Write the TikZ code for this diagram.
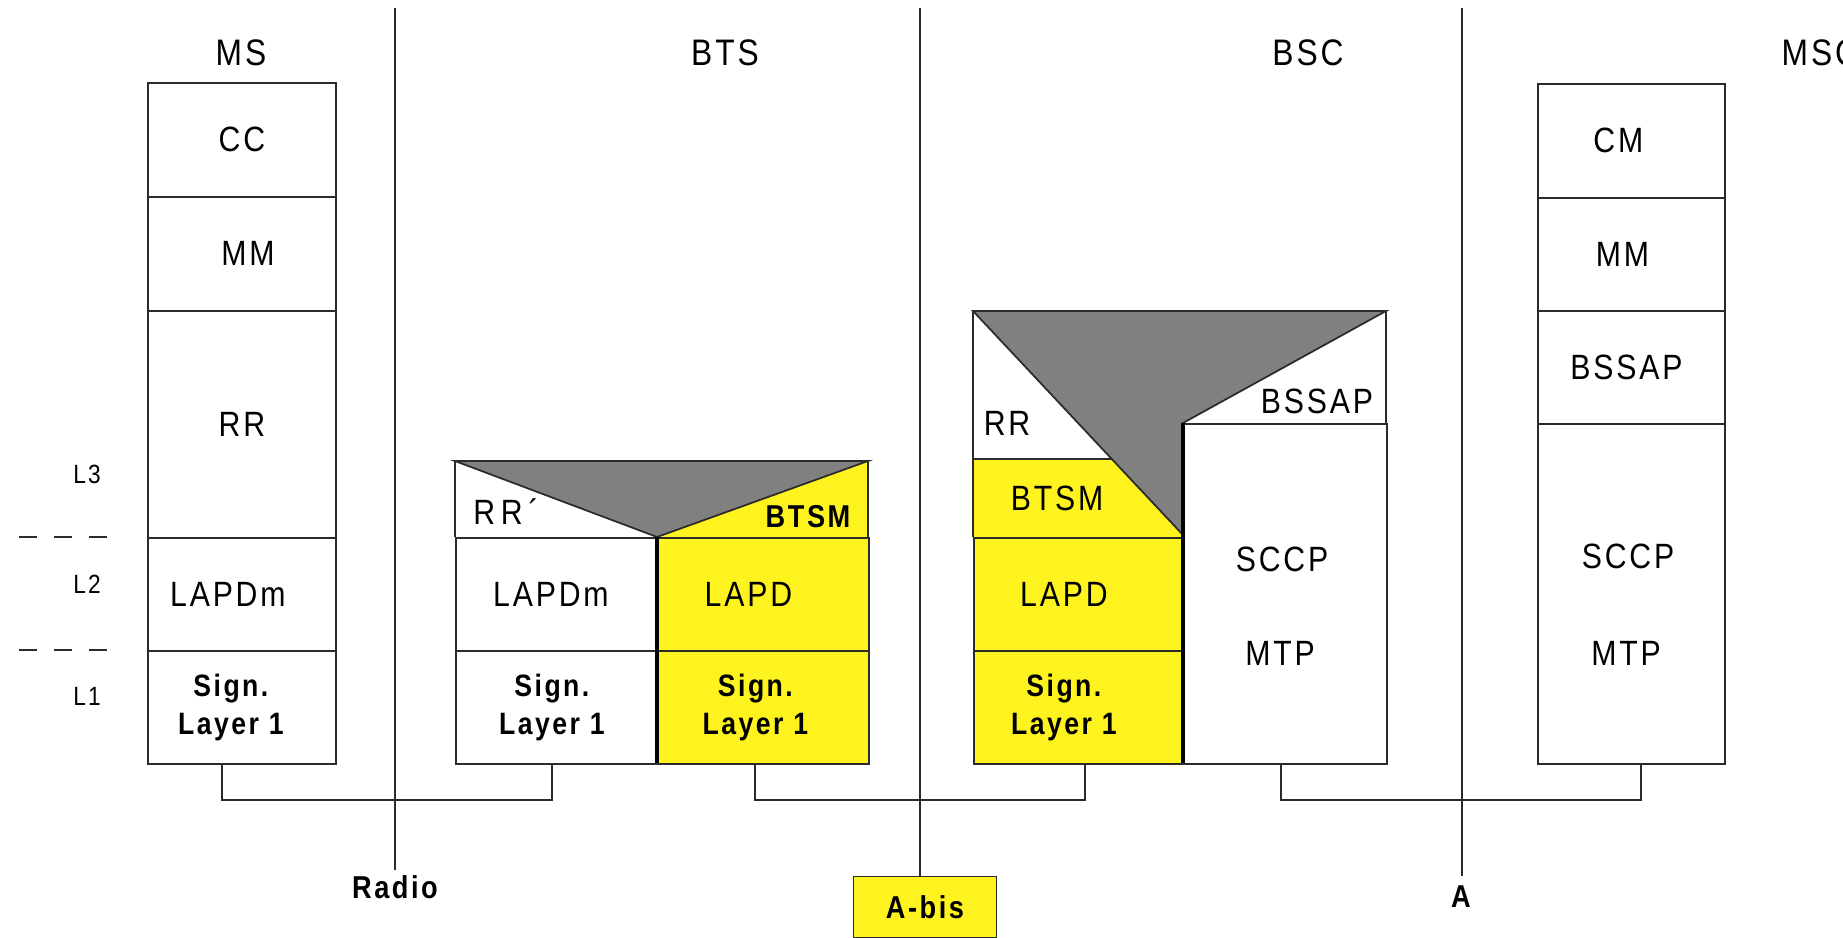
\documentclass[tikz,border=0pt]{standalone}
\usepackage{fontspec}
\setmainfont{Liberation Sans}[FakeStretch=0.86,LetterSpace=8]
\usepackage{tikz}
\usetikzlibrary{positioning}
\definecolor{sigyellow}{HTML}{FFF31F}
\definecolor{headgray}{HTML}{808080}
\definecolor{linegray}{HTML}{2B2B2B}
\tikzset{
  layer/.style={
    draw=linegray,
    line width=0.5pt,
    anchor=north west,
    inner sep=0pt,
    align=center,
    font=\fontsize{10}{12}\selectfont
  },
  signlayer/.style={
    layer,
    font=\bfseries\fontsize{8.8}{10.8}\selectfont
  },
  caption/.style={
    inner sep=0pt,
    font=\fontsize{10}{12}\selectfont
  },
  boldcap/.style={
    inner sep=0pt,
    font=\bfseries\fontsize{9}{11}\selectfont
  },
  levelcap/.style={
    inner sep=0pt,
    font=\fontsize{7.5}{9}\selectfont
  },
  headline/.style={
    draw=linegray,
    line width=0.5pt
  },
  sideline/.style={
    draw=black,
    line width=1.3pt
  },
  iface/.style={
    draw=linegray,
    line width=0.45pt
  },
  link/.style={
    draw=linegray,
    line width=0.45pt
  }
}

\begin{document}
\begin{tikzpicture}[x=0.1mm, y=-0.1mm]
    \useasboundingbox (0,0) rectangle (1843,938);
    % interface lines
    \coordinate (radiotop) at (395,8);
    \coordinate (radiobot) at (395,870);
    \coordinate (abistop) at (920,8);
    \coordinate (abisbot) at (920,876);
    \coordinate (atop) at (1462,8);
    \coordinate (abot) at (1462,876);
    \draw[iface] (radiotop) -- (radiobot);
    \draw[iface] (abistop) -- (abisbot);
    \draw[iface] (atop) -- (abot);
    \node[boldcap, below=1.7mm of radiobot, anchor=center] (radio) {Radio};
    \node[boldcap, below=0pt of abisbot, xshift=0.5mm, draw=linegray, fill=sigyellow,
      minimum width=14.3mm, minimum height=6.1mm] (abis) {A-bis};
    \node[boldcap] (aname) at (1461,897) {A};

    % titles and levels
    \node[caption, font=\fontsize{10.5}{12}\selectfont] (msname) at (241,53) {MS};
    \node[caption, font=\fontsize{10.5}{12}\selectfont] (btsname) at (725,53) {BTS};
    \node[caption, font=\fontsize{10.5}{12}\selectfont] (bscname) at (1308,53) {BSC};
    \node[caption, font=\fontsize{10.5}{12}\selectfont, anchor=west] (mscname) at (1781,53) {MSC};
    \node[levelcap] (lthree) at (87,474) {L3};
    \node[levelcap] (ltwo) at (87,584) {L2};
    \node[levelcap] (lone) at (87,696) {L1};
    \draw[iface, dash pattern=on 1.8mm off 1.7mm] (19,537) -- (117,537);
    \draw[iface, dash pattern=on 1.8mm off 1.7mm] (19,650) -- (117,650);

    % MS stack
    \node[layer, minimum width=18.8mm, minimum height=11.4mm] (mscc) at (147,82) {CC};
    \node[layer, minimum width=18.8mm, minimum height=11.4mm, text width=18.8mm] (msmm) at (147,196) {\hspace*{1.2mm}MM};
    \node[layer, minimum width=18.8mm, minimum height=22.7mm] (msrr) at (147,310) {RR};
    \node[layer, minimum width=18.8mm, minimum height=11.3mm] (mslapdm) at (147,537) {LAPDm\hspace*{2.8mm}};
    \node[signlayer, minimum width=18.8mm, minimum height=11.3mm] (msl1) at (147,650) {Sign.\hspace*{2.2mm}\\Layer 1\hspace*{2.2mm}};

    % BTS stack
    \fill[sigyellow] (657,537) -- (868,461) -- (868,537) -- cycle;
    \filldraw[headline, fill=headgray] (455,461) -- (868,461) -- (657,537) -- cycle;
    \draw[headline] (455,537) -- (455,461);
    \draw[headline] (868,461) -- (868,537);
    \node[caption] (btsrr) at (506,512) {R\,R\,´};
    \node[boldcap] (btsbtsm) at (808,517) {BTSM};
    \node[layer, minimum width=20.2mm, minimum height=11.3mm] (btslapdm) at (455,537) {LAPDm\hspace*{1.2mm}};
    \node[signlayer, minimum width=20.2mm, minimum height=11.3mm] (btsl1a) at (455,650) {Sign.\hspace*{1mm}\\Layer 1\hspace*{1mm}};
    \node[layer, fill=sigyellow, minimum width=21.1mm, minimum height=11.3mm] (btslapd) at (657,537) {LAPD\hspace*{3mm}};
    \node[signlayer, fill=sigyellow, minimum width=21.1mm, minimum height=11.3mm] (btsl1b) at (657,650) {Sign.\hspace*{1.6mm}\\Layer 1\hspace*{1.6mm}};
    \draw[sideline] (657,537) -- (657,763);

    % BSC stack
    \fill[sigyellow] (973,459) -- (1112,459) -- (1183,535) -- (1183,763) -- (973,763) -- cycle;
    \filldraw[headline, fill=headgray] (973,311) -- (1386,311) -- (1183,423) -- (1183,535) -- cycle;
    \draw[headline] (973,537) -- (973,311);
    \draw[headline] (1386,311) -- (1386,423);
    \draw[headline] (973,459) -- (1112,459);
    \node[caption] (bscrr) at (1007,423) {RR};
    \node[caption] (bscbssap) at (1317,401) {BSSAP};
    \node[caption] (bscbtsm) at (1057,498) {BTSM};
    \node[layer, fill=sigyellow, minimum width=21mm, minimum height=11.3mm] (bsclapd) at (973,537) {LAPD\hspace*{3mm}};
    \node[signlayer, fill=sigyellow, minimum width=21mm, minimum height=11.3mm] (bscl1) at (973,650) {Sign.\hspace*{3mm}\\Layer 1\hspace*{3mm}};
    \node[layer, minimum width=20.3mm, minimum height=34mm] (bscsccp) at (1183,423) {};
    \node[caption] (bscsccplbl) at (1282,559) {SCCP};
    \node[caption] (bscmtp) at (1280,653) {MTP};
    \draw[sideline] (1183,423) -- (1183,763);

    % MSC stack
    \node[layer, minimum width=18.7mm, minimum height=11.4mm] (msccm) at (1537,83) {CM\hspace*{2.6mm}};
    \node[layer, minimum width=18.7mm, minimum height=11.3mm] (mscmm) at (1537,197) {MM\hspace*{1.8mm}};
    \node[layer, minimum width=18.7mm, minimum height=11.3mm] (mscbssap) at (1537,310) {BSSAP\hspace*{1mm}};
    \node[layer, minimum width=18.7mm, minimum height=34mm] (mscsccp) at (1537,423) {};
    \node[caption] (mscsccplbl) at (1628,556) {SCCP};
    \node[caption] (mscmtp) at (1626,653) {MTP};

    % links between peers
    \coordinate (msend) at (222,763);
    \coordinate (btsenda) at (552,763);
    \coordinate (btsendb) at (755,763);
    \coordinate (bscenda) at (1085,763);
    \coordinate (bscendb) at (1281,763);
    \coordinate (mscend) at (1641,763);
    \foreach \a/\b in {msend/btsenda,btsendb/bscenda,bscendb/mscend}
      \draw[link] (\a) -- ++(0,37) -| (\b);
  \end{tikzpicture}
\end{document}
